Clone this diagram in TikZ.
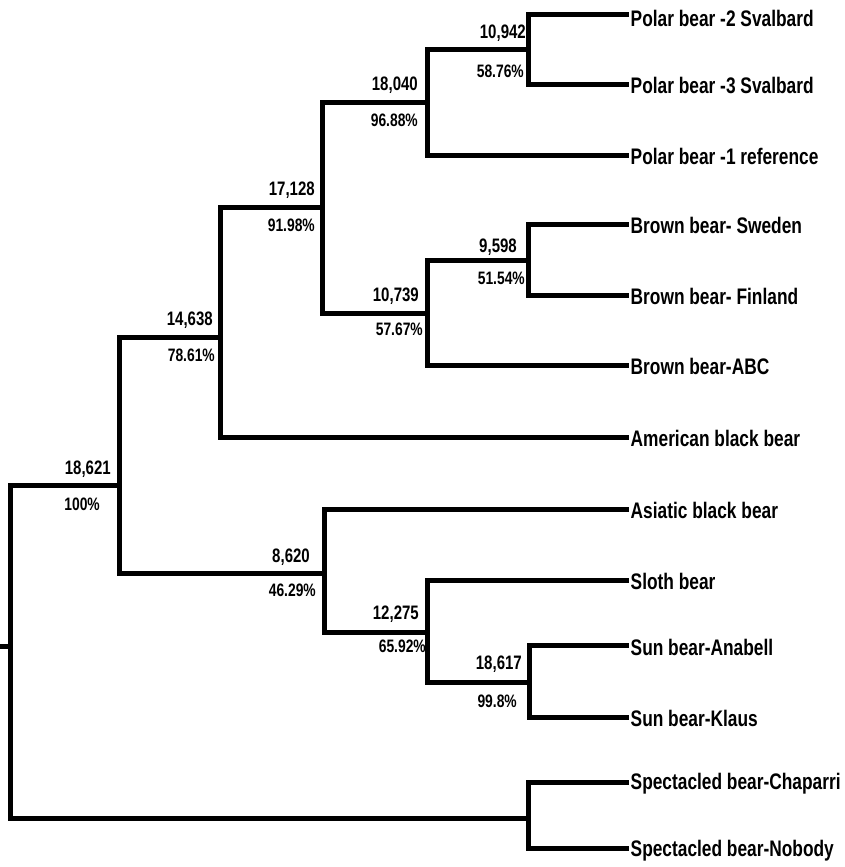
\documentclass[tikz,border=0pt]{standalone}
\usepackage{fontspec}
\setmainfont{Liberation Sans}[FakeStretch=0.77]
\usetikzlibrary{positioning}
\begin{document}
\begin{tikzpicture}[x=1pt, y=-1pt, line join=miter,
	branch/.style={line width=5pt, color=black},
	leaf/.style={anchor=west, inner sep=1.5pt, font=\bfseries\fontsize{22.5}{26}\selectfont},
	boot/.style={inner sep=0pt, text depth=0pt, font=\bfseries\fontsize{19.5}{22}\selectfont},
	pct/.style={inner sep=0pt, text depth=0pt, font=\bfseries\fontsize{18}{20}\selectfont}]
	\useasboundingbox (0,0) rectangle (844,867);
	% internal nodes
	\coordinate (stem) at (0,646);
	\coordinate (root) at (10,646);
	\coordinate (nA) at (119,485);
	\coordinate (nB) at (220,337);
	\coordinate (nC) at (322,207);
	\coordinate (nD) at (427,102);
	\coordinate (nE) at (528,50);
	\coordinate (nF) at (427,313);
	\coordinate (nG) at (528,260);
	\coordinate (nH) at (324,573);
	\coordinate (nI) at (427,632);
	\coordinate (nJ) at (529,682);
	\coordinate (nK) at (528,818);
	% leaves
	\node[leaf] (polar2) at (629,18) {Polar bear -2 Svalbard};
	\node[leaf] (polar3) at (629,85) {Polar bear -3 Svalbard};
	\node[leaf] (polar1) at (629,156) {Polar bear -1 reference};
	\node[leaf] (brownS) at (629,225) {Brown bear- Sweden};
	\node[leaf] (brownF) at (629,296) {Brown bear- Finland};
	\node[leaf] (brownA) at (629,366) {Brown bear-ABC};
	\node[leaf] (amblack) at (629,438) {American black bear};
	\node[leaf] (asblack) at (629,510) {Asiatic black bear};
	\node[leaf] (sloth) at (629,581) {Sloth bear};
	\node[leaf] (sunA) at (629,647) {Sun bear-Anabell};
	\node[leaf] (sunK) at (629,718) {Sun bear-Klaus};
	\node[leaf] (specC) at (629,784) {Spectacled bear-Chaparri};
	\node[leaf] (specN) at (629,851) {Spectacled bear-Nobody};
	% branches
	\draw[branch] (stem) -- (root);
	\draw[branch] (root) |- (nA);
	\draw[branch] (root) |- (nK);
	\draw[branch] (nA) |- (nB);
	\draw[branch] (nA) |- (nH);
	\draw[branch] (nB) |- (nC);
	\draw[branch] (nB) |- (amblack.west |- 0,437);
	\draw[branch] (nC) |- (nD);
	\draw[branch] (nC) |- (nF);
	\draw[branch] (nD) |- (nE);
	\draw[branch] (nD) |- (polar1.west |- 0,155);
	\draw[branch] (nE) |- (polar2.west |- 0,15);
	\draw[branch] (nE) |- (polar3.west |- 0,84);
	\draw[branch] (nF) |- (nG);
	\draw[branch] (nF) |- (brownA.west |- 0,365);
	\draw[branch] (nG) |- (brownS.west |- 0,224);
	\draw[branch] (nG) |- (brownF.west |- 0,295);
	\draw[branch] (nH) |- (asblack.west |- 0,509);
	\draw[branch] (nH) |- (nI);
	\draw[branch] (nI) |- (sloth.west |- 0,580);
	\draw[branch] (nI) |- (nJ);
	\draw[branch] (nJ) |- (sunA.west |- 0,645);
	\draw[branch] (nJ) |- (sunK.west |- 0,717);
	\draw[branch] (nK) |- (specC.west |- 0,782);
	\draw[branch] (nK) |- (specN.west |- 0,848);
	% support values
	\node[boot, above left=10pt and 8pt of nA] (bA) {18,621};
	\node[pct, below left=13pt and 19pt of nA] (pA) {100\%};
	\node[boot, above left=11pt and 7pt of nB] (bB) {14,638};
	\node[pct, below left=12pt and 5pt of nB] (pB) {78.61\%};
	\node[boot, above left=11pt and 7pt of nC] (bC) {17,128};
	\node[pct, below left=12pt and 7pt of nC] (pC) {91.98\%};
	\node[boot, above left=11pt and 9pt of nD] (bD) {18,040};
	\node[pct, below left=12pt and 9pt of nD] (pD) {96.88\%};
	\node[boot, above left=11pt and 2pt of nE] (bE) {10,942};
	\node[pct, below left=15pt and 4pt of nE] (pE) {58.76\%};
	\node[boot, above left=11pt and 8pt of nF] (bF) {10,739};
	\node[pct, below left=10pt and 4pt of nF] (pF) {57.67\%};
	\node[boot, above left=7pt and 11pt of nG] (bG) {9,598};
	\node[pct, below left=12pt and 3pt of nG] (pG) {51.54\%};
	\node[boot, above left=10pt and 14pt of nH] (bH) {8,620};
	\node[pct, below left=11pt and 8pt of nH] (pH) {46.29\%};
	\node[boot, above left=12pt and 8pt of nI] (bI) {12,275};
	\node[pct, below left=8pt and 1pt of nI] (pI) {65.92\%};
	\node[boot, above left=12pt and 7pt of nJ] (bJ) {18,617};
	\node[pct, below left=13pt and 12pt of nJ] (pJ) {99.8\%};
\end{tikzpicture}
\end{document}
